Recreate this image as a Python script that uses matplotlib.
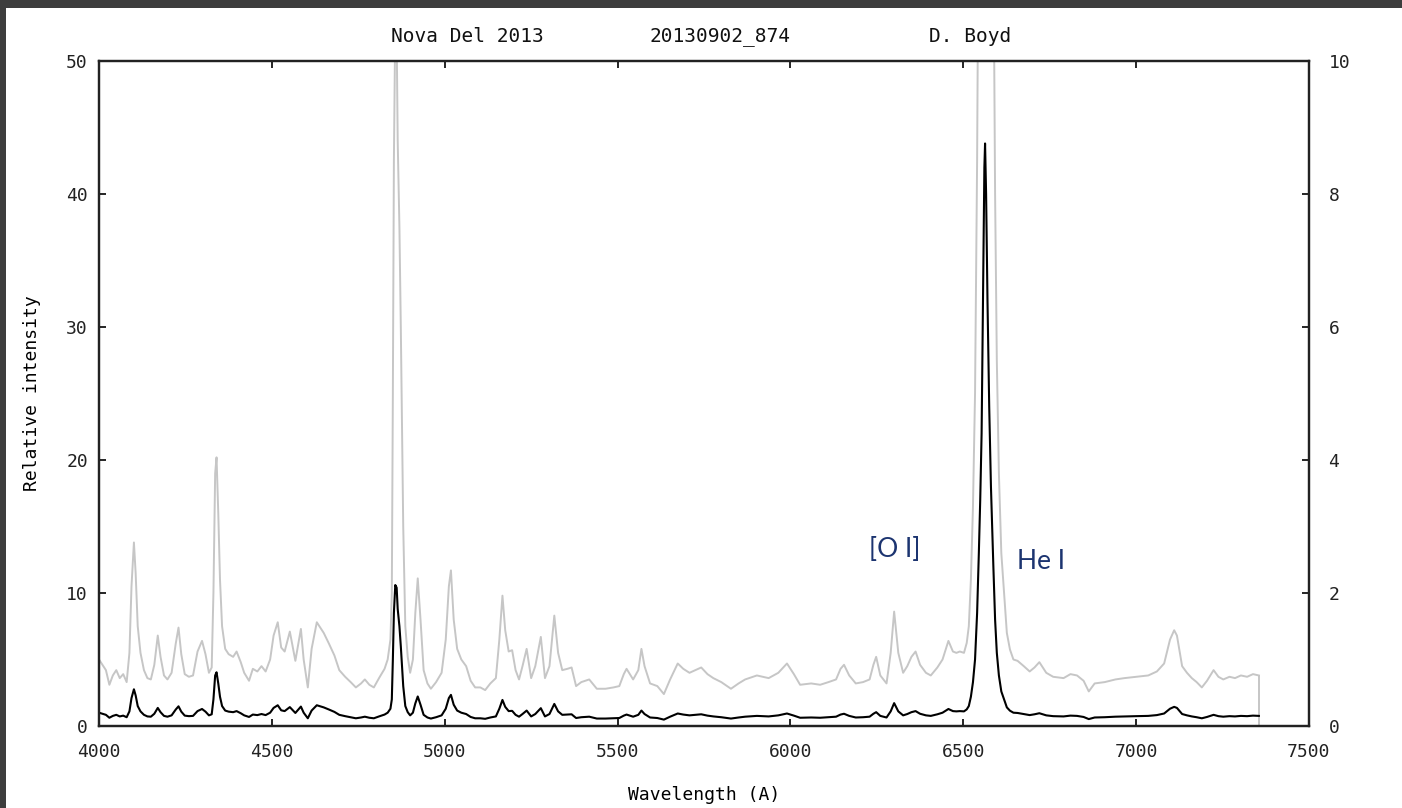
import numpy as np
import matplotlib
matplotlib.use("Agg")
from matplotlib import pyplot as plt
from matplotlib.patches import Rectangle

# spectrum of Nova Del 2013
wavelength = [
    4000, 4010, 4020, 4030, 4040, 4050, 4060, 4070, 4080, 4088, 4094, 4101, 4106, 4112, 4120,
    4130, 4140, 4150, 4160, 4170, 4178, 4188, 4198, 4210, 4222, 4230, 4238, 4248, 4260, 4272,
    4285, 4298, 4308, 4318, 4326, 4331, 4336, 4340, 4345, 4350, 4356, 4365, 4375, 4388, 4398,
    4410, 4420, 4434, 4445, 4458, 4470, 4482, 4495, 4505, 4517, 4527, 4537, 4552, 4568, 4584,
    4592, 4604, 4615, 4630, 4650, 4665, 4681, 4695, 4712, 4728, 4743, 4758, 4769, 4782, 4795,
    4810, 4826, 4835, 4843, 4847, 4850, 4853, 4857, 4861, 4864, 4869, 4873, 4880, 4886, 4893,
    4900, 4908, 4915, 4922, 4930, 4939, 4950, 4960, 4975, 4991, 5003, 5012, 5018, 5026, 5036,
    5048, 5062, 5075, 5088, 5103, 5117, 5132, 5148, 5158, 5167, 5175, 5185, 5195, 5205, 5215,
    5225, 5237, 5250, 5262, 5278, 5290, 5303, 5317, 5328, 5340, 5355, 5367, 5380, 5395, 5418,
    5440, 5465, 5488, 5505, 5518, 5526, 5545, 5560, 5569, 5578, 5594, 5615, 5634, 5652, 5674,
    5690, 5708, 5725, 5742, 5760, 5777, 5800, 5828, 5850, 5869, 5903, 5937, 5965, 5990, 6010,
    6028, 6060, 6086, 6110, 6132, 6145, 6155, 6170, 6189, 6210, 6229, 6240, 6248, 6260, 6278,
    6290, 6300, 6312, 6326, 6338, 6350, 6362, 6375, 6392, 6406, 6425, 6440, 6457, 6470, 6480,
    6490, 6502, 6510, 6516, 6522, 6528, 6534, 6540, 6545, 6549, 6553, 6557, 6561, 6563, 6566,
    6570, 6575, 6580, 6587, 6592, 6597, 6603, 6610, 6618, 6626, 6635, 6645, 6657, 6675, 6692,
    6706, 6720, 6740, 6760, 6790, 6810, 6829, 6848, 6863, 6880, 6909, 6940, 6966, 7000, 7035,
    7060, 7081, 7098, 7110, 7118, 7133, 7147, 7161, 7175, 7190, 7205, 7224, 7238, 7252, 7270,
    7286, 7303, 7321, 7338, 7355,
]
intensity = [
    1.00, 0.92, 0.84, 0.62, 0.76, 0.84, 0.72, 0.78, 0.66, 1.10, 2.10, 2.76, 2.30, 1.50, 1.10,
    0.84, 0.72, 0.70, 0.92, 1.36, 1.04, 0.76, 0.70, 0.80, 1.24, 1.48, 1.08, 0.78, 0.74, 0.76,
    1.12, 1.28, 1.08, 0.80, 0.88, 2.00, 3.80, 4.04, 3.20, 2.20, 1.50, 1.16, 1.08, 1.04, 1.12,
    0.96, 0.80, 0.68, 0.86, 0.82, 0.90, 0.82, 1.00, 1.36, 1.56, 1.18, 1.12, 1.42, 0.98, 1.46,
    1.00, 0.58, 1.16, 1.56, 1.40, 1.24, 1.06, 0.84, 0.74, 0.66, 0.58, 0.64, 0.70, 0.62, 0.58,
    0.72, 0.86, 1.00, 1.30, 2.00, 5.00, 8.50, 10.6, 10.4, 8.80, 7.50, 6.00, 3.00, 1.50, 1.04,
    0.80, 1.00, 1.70, 2.22, 1.60, 0.84, 0.64, 0.56, 0.66, 0.80, 1.30, 2.10, 2.34, 1.60, 1.16,
    1.00, 0.90, 0.68, 0.58, 0.58, 0.54, 0.64, 0.72, 1.30, 1.96, 1.44, 1.12, 1.14, 0.84, 0.70,
    0.90, 1.16, 0.72, 0.90, 1.34, 0.72, 0.90, 1.66, 1.10, 0.84, 0.86, 0.88, 0.60, 0.66, 0.70,
    0.56, 0.56, 0.58, 0.60, 0.78, 0.86, 0.70, 0.84, 1.16, 0.90, 0.64, 0.60, 0.48, 0.70, 0.94,
    0.86, 0.80, 0.84, 0.88, 0.78, 0.72, 0.66, 0.56, 0.64, 0.70, 0.76, 0.72, 0.80, 0.94, 0.78,
    0.62, 0.64, 0.62, 0.66, 0.70, 0.86, 0.92, 0.76, 0.64, 0.66, 0.70, 0.92, 1.04, 0.76, 0.64,
    1.10, 1.72, 1.10, 0.80, 0.90, 1.04, 1.12, 0.92, 0.80, 0.76, 0.88, 1.00, 1.28, 1.12, 1.10,
    1.12, 1.10, 1.25, 1.50, 2.20, 3.30, 5.00, 8.50, 13.0, 17.0, 22.0, 32.0, 42.0, 43.8, 40.0,
    32.0, 24.0, 18.0, 12.0, 8.00, 5.50, 3.80, 2.60, 2.00, 1.40, 1.15, 1.00, 0.98, 0.90, 0.82,
    0.88, 0.96, 0.80, 0.74, 0.72, 0.78, 0.76, 0.68, 0.52, 0.64, 0.66, 0.70, 0.72, 0.74, 0.76,
    0.82, 0.94, 1.30, 1.44, 1.36, 0.90, 0.80, 0.72, 0.66, 0.58, 0.68, 0.84, 0.74, 0.70, 0.74,
    0.72, 0.76, 0.74, 0.78, 0.76,
]

x_ticks = [4000, 4500, 5000, 5500, 6000, 6500, 7000, 7500]
y_ticks = [0, 10, 20, 30, 40, 50]
y2_ticks = [0, 2, 4, 6, 8, 10]
title_parts = ["Nova Del 2013", "20130902_874", "D. Boyd"]
labels = [("[O I]", 6228, 13.3), ("He I", 6655, 12.4)]

mono = "DejaVu Sans Mono"
fig = plt.figure(figsize=(14.02, 8.08), dpi=100, facecolor="#3d3d3d")
fig.patches.append(Rectangle((6 / 1402, 0), 1, 1 - 8 / 808, transform=fig.transFigure,
                             facecolor="white", edgecolor="none", zorder=-1))

ax = fig.add_axes([99 / 1402, 1 - 726 / 808, 1210 / 1402, 665 / 808])
ax2 = ax.twinx()
ax.set_zorder(ax2.get_zorder() + 1)
ax.patch.set_visible(False)

wl = np.array(wavelength)
flux = np.array(intensity)

# expanded (x5) copy in grey against the right hand scale
ax2.plot(wl, flux, color="#c6c6c6", lw=1.4)
ax2.vlines(wl[-1], 0, flux[-1], color="#c6c6c6", lw=1.4)
ax.plot(wl, flux, color="black", lw=1.5)

ax.set_xlim(4000, 7500)
ax.set_ylim(0, 50)
ax2.set_ylim(0, 10)
ax.set_xticks(x_ticks)
ax.set_yticks(y_ticks)
ax2.set_yticks(y2_ticks)

ax.tick_params(axis="x", direction="in", top=True, length=5, width=1.2, pad=12, labelsize=13)
ax.tick_params(axis="y", direction="in", length=5, width=1.2, pad=8, labelsize=13)
ax2.tick_params(axis="y", direction="in", length=5, width=1.2, pad=14, labelsize=13)
for a in (ax, ax2):
    for lab in a.get_xticklabels() + a.get_yticklabels():
        lab.set_family(mono)
        lab.set_color("#222222")
    for s in a.spines.values():
        s.set_linewidth(1.6)
        s.set_color("#222222")

ax.set_xlabel("Wavelength (A)", family=mono, fontsize=13, labelpad=18)
ax.set_ylabel("Relative intensity", family=mono, fontsize=13, labelpad=18)

for txt, xc in zip(title_parts, [467, 720, 970]):
    fig.text(xc / 1402, 1 - 37 / 808, txt, family=mono, fontsize=14,
             ha="center", va="center", color="#111111")

for txt, lx, ly in labels:
    ax.text(lx, ly, txt, fontsize=19, family="Lato", color="#1c3470",
            ha="left", va="center")

fig.savefig("out.png", dpi=100, facecolor=fig.get_facecolor())
